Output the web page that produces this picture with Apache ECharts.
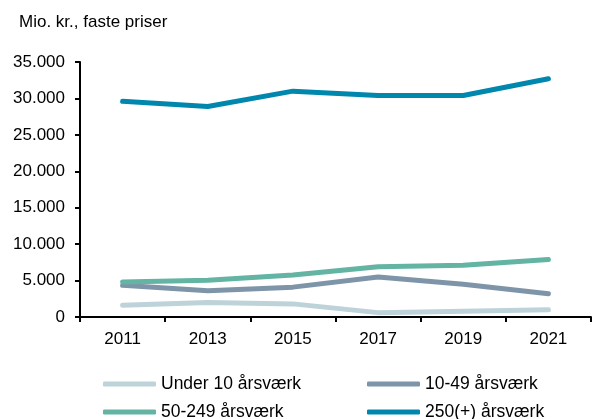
<!DOCTYPE html>
<html lang="da">
<head>
    <meta charset="UTF-8">
    <title>Mio. kr., faste priser</title>
    <script src="https://cdn.jsdelivr.net/npm/echarts@6/dist/echarts.min.js"></script>
    <style>
        html, body { margin: 0; padding: 0; background: #fff; }
        #chart { width: 592px; height: 419px; }
    </style>
</head>
<body>
    <div id="chart"></div>
    <script>
        // data
        const years = ['2011', '2013', '2015', '2017', '2019', '2021'];
        const under10 = [1600, 2000, 1800, 600, 800, 1000];
        const size10to49 = [4350, 3600, 4100, 5500, 4500, 3200];
        const size50to249 = [4800, 5050, 5750, 6900, 7100, 7900];
        const size250plus = [29600, 28900, 31000, 30400, 30400, 32700];

        const seriesNames = ['Under 10 årsværk', '10-49 årsværk', '50-249 årsværk', '250(+) årsværk'];
        const colors = ['#bdd3d9', '#7e95a9', '#63b4a3', '#0087ad'];
        const values = [under10, size10to49, size50to249, size250plus];

        const font = 'Liberation Sans, Arial, sans-serif';
        const fmt = v => String(v).replace(/\B(?=(\d{3})+(?!\d))/g, '.');

        const chart = echarts.init(document.getElementById('chart'));

        // 4 legends, placed as a 2x2 grid
        const legendPos = [[103, 375], [367, 375], [103, 403], [367, 403]];
        const legends = seriesNames.map((name, i) => ({
            data: [name],
            left: legendPos[i][0],
            top: legendPos[i][1],
            icon: 'roundRect',
            itemWidth: 53,
            itemHeight: 5,
            padding: 0,
            textStyle: { fontFamily: font, fontSize: 17.5, color: '#000' }
        }));

        chart.setOption({
            animation: false,
            title: {
                text: 'Mio. kr., faste priser',
                left: 14,
                top: 9,
                textStyle: { fontFamily: font, fontSize: 17, fontWeight: 'normal', color: '#000' }
            },
            legend: legends,
            grid: { left: 80, top: 62, width: 511, height: 255, containLabel: false },
            xAxis: {
                type: 'category',
                data: years,
                boundaryGap: true,
                axisLine: { lineStyle: { color: '#000', width: 2 } },
                axisTick: { show: true, length: 5, interval: 0, lineStyle: { color: '#000', width: 2 } },
                axisLabel: { fontFamily: font, fontSize: 17, color: '#000', margin: 14 }
            },
            yAxis: {
                type: 'value',
                min: 0,
                max: 35000,
                interval: 5000,
                splitLine: { show: false },
                axisLine: { show: true, lineStyle: { color: '#000', width: 2 } },
                axisTick: { show: true, length: 5, lineStyle: { color: '#000', width: 2 } },
                axisLabel: { fontFamily: font, fontSize: 17, color: '#000', margin: 15, formatter: fmt }
            },
            series: seriesNames.map((name, i) => ({
                name: name,
                type: 'line',
                data: values[i],
                symbol: 'none',
                color: colors[i],
                lineStyle: { width: 5, color: colors[i], cap: 'round', join: 'round' }
            }))
        });
    </script>
</body>
</html>
